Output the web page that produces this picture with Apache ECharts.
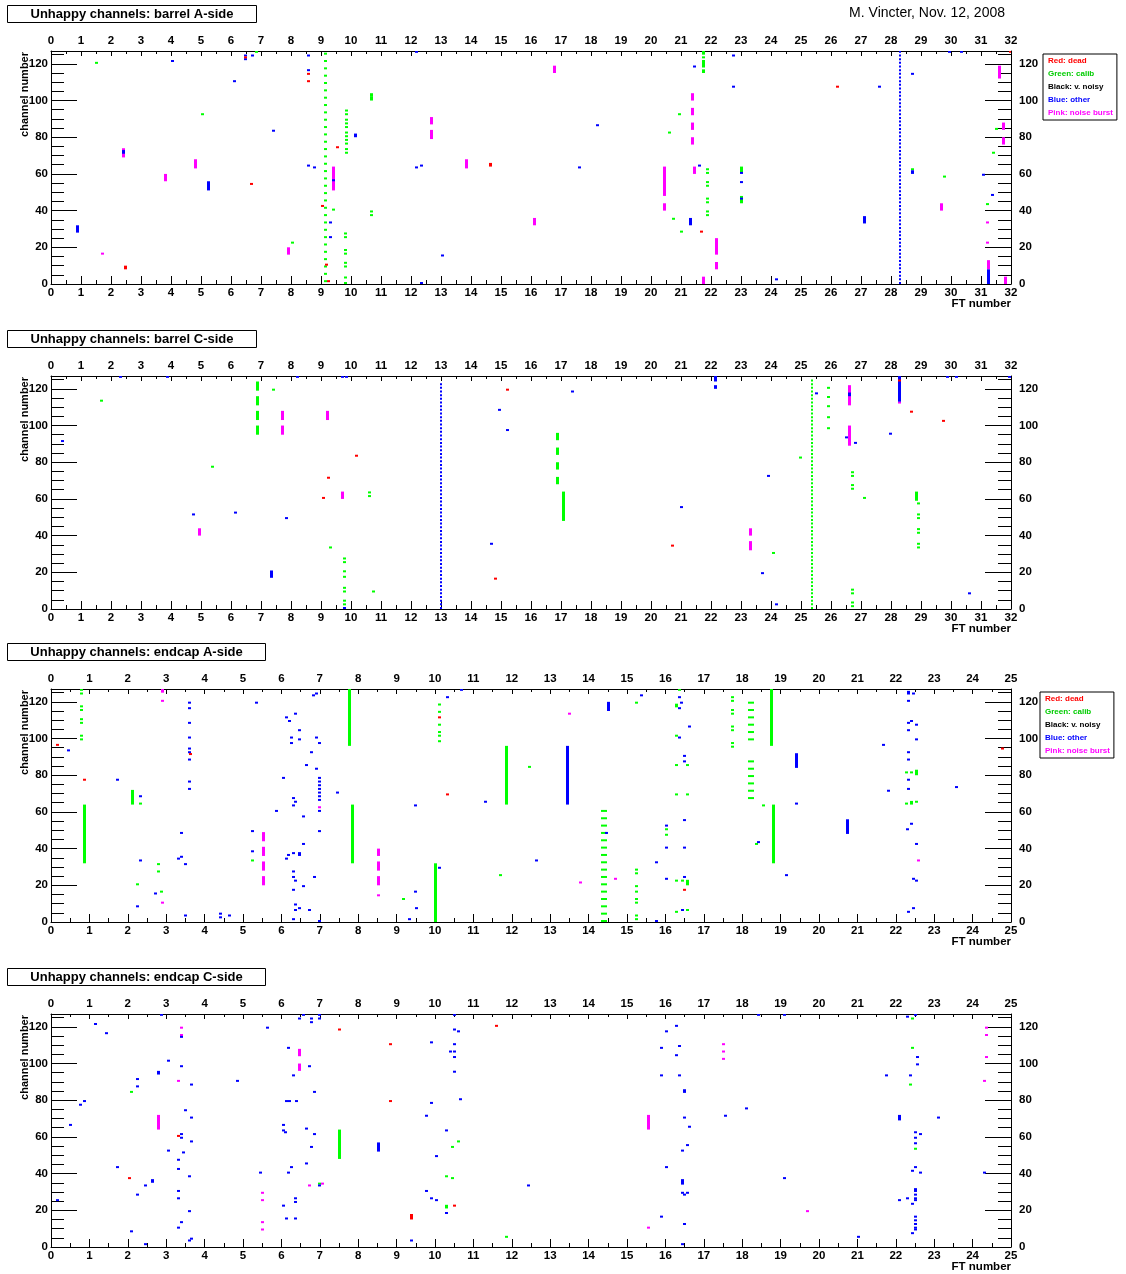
<!DOCTYPE html>
<html><head><meta charset="utf-8">
<script src="https://cdn.jsdelivr.net/npm/echarts@6/dist/echarts.min.js"></script>
<style>html,body{margin:0;padding:0;background:#fff}#c{width:1126px;height:1274px}</style>
</head><body><div id="c"></div><script>
// ---------------- labels ----------------
const panelTitles = ['Unhappy channels: barrel A-side', 'Unhappy channels: barrel C-side', 'Unhappy channels: endcap A-side', 'Unhappy channels: endcap C-side'];
const authorNote = 'M. Vincter, Nov. 12, 2008';
const xTitle = 'FT number';
const yTitle = 'channel number';
const ftMax = [32, 32, 25, 25];
const channelMax = 127;
const legendLabels = ['Red: dead', 'Green: calib', 'Black: v. noisy', 'Blue: other', 'Pink: noise burst'];
const legendColors = ['#ff0000', '#00cc00', '#000000', '#0000ff', '#ff00ff'];

// ---------------- data: [FT, first channel, last channel] ----------------
// barrel A-side
const barrelA_dead = [[6.47,123],[8.57,114],[8.57,110],[9.55,74],[14.64,64,65],[6.68,54],[9.06,42],[2.47,8,9],[9.18,10],[9.26,1],[21.68,28],[26.23,107],[31.97,126]];
const barrelA_calib = [[1.53,120],[6.84,126],[5.05,92],[10.69,102,103],[10.69,100,101],[9.41,40],[10.69,39],[10.69,37],[8.04,22],
 [9.85,94],[9.85,92],[9.85,89],[9.85,87],[9.85,85],[9.85,82],[9.85,80],[9.85,78],[9.85,76],[9.85,73],[9.85,71],
 [9.8,27],[9.8,25],[9.8,18],[9.8,16],[9.8,11],[9.8,9],[9.8,3],[9.8,0],
 [21.74,125,126],[21.74,123],[21.74,121],[21.74,118,120],[21.74,115,116],[20.94,92],[20.6,82],
 [21.89,62],[21.89,60],[21.89,55],[21.89,53],[21.89,46],[21.89,44],[21.89,39],[21.89,37],
 [23.03,61,63],[23.03,44,47],[20.74,35],[21.03,28],[28.73,62],[29.77,58],[31.52,84],[31.43,71],[31.2,43],
 [9.15,1],[9.15,5],[9.15,9],[9.15,13],[9.15,17],[9.15,21],[9.15,25],[9.15,29],[9.15,33],[9.15,37],[9.15,41],[9.15,45],[9.15,49],[9.15,53],[9.15,57],[9.15,61],
 [9.15,65],[9.15,69],[9.15,73],[9.15,77],[9.15,81],[9.15,85],[9.15,89],[9.15,93],[9.15,97],[9.15,101],[9.15,105],[9.15,109],[9.15,113],[9.15,117],[9.15,121],[9.15,125]];
const barrelA_noisy = [];
const barrelA_other = [[4.04,121],[6.47,124],[6.47,122],[6.7,124],[6.12,110],[8.57,124],[8.57,116],[7.4,83],[10.14,80,81],[18.2,86],[2.4,71,72],[8.57,64],[8.78,63],[9.41,56],[12.19,63],[12.36,64],[17.63,63],[5.26,51,55],[9.32,33],[9.32,25],[0.89,28,31],[13.05,15],[12.36,0],[12.19,126],
 [21.44,118],[22.74,124],[22.74,107],[21.6,64],[23.03,60],[23.03,55],[23.03,46],[21.32,32,35],
 [24.17,2],[27.63,107],[27.1,33,36],[28.73,60,61],[28.7,114],[29.95,126],[30.35,126],[31.08,59],[31.37,48],[31.25,0,7]];
// dotted full-height column of "other" channels at FT 28.3 (barrel A)
const barrelA_otherColumnFT = 28.3;
const barrelA_otherColumnCh = [0,2,4,6,8,10,12,14,16,18,20,22,24,26,28,30,32,34,36,38,40,42,44,46,48,50,52,54,56,58,60,62,64,66,68,70,72,74,76,78,80,82,84,86,88,90,92,94,96,98,100,102,104,106,108,110,112,114,116,118,120,122,124,126];
const barrelA_burst = [[12.69,87,90],[12.69,79,83],[16.77,115,118],[2.4,69,73],[4.82,63,67],[9.41,51,63],[13.86,63,67],[3.83,56,59],[16.13,32,35],[7.91,16,19],[1.73,16],
 [21.38,100,103],[21.38,92,95],[21.38,84,87],[21.38,76,79],[20.44,48,63],[20.44,40,43],[21.44,60,63],[22.17,16,24],[22.17,8,11],[21.74,0,3],
 [29.67,40,43],[31.63,112,118],[31.75,84,87],[31.75,76,79],[31.23,33],[31.23,22],[31.25,8,12],[31.8,0,3]];

// barrel C-side
const barrelC_dead = [[10.19,83],[9.26,71],[9.07,60],[15.22,119],[14.81,16],[20.73,34],[28.27,124],[28.69,107],[29.74,102]];
const barrelC_calib = [[6.87,119,123],[6.87,111,115],[6.87,103,107],[6.87,95,99],[7.43,119],[1.67,113],[5.37,77],[10.62,63],[10.62,61],[9.33,33],
 [9.77,27],[9.77,25],[9.77,20],[9.77,17],[9.77,11],[9.77,9],[9.77,4],[9.77,2],[10.76,9],
 [16.87,92,95],[16.87,84,87],[16.87,76,79],[16.87,68,71],[17.07,48,63],[24.07,30],[24.97,82],
 [25.93,120],[25.93,115],[25.93,110],[25.93,104],[25.93,98],
 [26.7,74],[26.7,72],[26.7,67],[26.7,65],[26.7,10],[26.7,8],[26.7,3],[26.7,1],[27.11,60],
 [28.85,59,63],[28.91,57],[28.91,51],[28.91,49],[28.91,43],[28.91,41],[28.91,35],[28.91,33]];
// dotted column of "calib" channels at FT 25.37 (barrel C)
const barrelC_calibColumnFT = 25.37;
const barrelC_calibColumnCh = [0,2,4,6,8,10,12,14,16,18,20,22,24,26,28,30,32,34,36,38,40,42,44,46,48,50,52,54,56,58,60,62,64,66,68,70,72,74,76,78,80,82,84,86,88,90,92,94,96,98,100,102,104,106,108,110,112,114,116,118,120,122,124];
const barrelC_noisy = [];
const barrelC_other = [[2.31,126],[3.88,126],[8.23,126],[9.71,126],[9.85,126],[0.39,91],[4.74,51],[6.16,52],[7.86,49],[7.35,17,20],[9.77,0],[14.94,108],[15.22,97],[14.67,35],
 [17.37,118],[21.03,55],[22.15,124,126],[22.15,120,121],[23.7,19],[23.93,72],[24.17,2],[25.5,117],[26.63,116,117],[26.5,93],[26.82,90],[27.97,95],[28.27,113,126],[29.89,126],[30.19,126],[31.95,126],[30.61,8]];
// dotted column of "other" channels at FT 13 (barrel C)
const barrelC_otherColumnFT = 13.0;
const barrelC_otherColumnCh = [0,2,4,6,8,10,12,14,16,18,20,22,24,26,28,30,32,34,36,38,40,42,44,46,48,50,52,54,56,58,60,62,64,66,68,70,72,74,76,78,80,82,84,86,88,90,92,94,96,98,100,102,104,106,108,110,112,114,116,118,120,122];
const barrelC_burst = [[7.7,103,107],[7.7,95,99],[9.2,103,107],[9.71,60,63],[4.96,40,43],[23.3,40,43],[23.3,32,36],[26.63,111,121],[26.63,89,99],[28.27,112]];

// endcap A-side
const endcapA_dead = [[0.16,96],[0.86,77],[3.64,91],[10.13,111],[10.32,69],[16.5,17],[24.79,94]];
const endcapA_calib = [[0.8,126],[0.8,124],[0.8,117],[0.8,115],[0.8,110],[0.8,108],[0.8,101],[0.8,99],
 [0.86,32,63],[2.12,64,71],[2.32,64],[2.8,31],[2.8,27],[2.26,20],[2.87,16],[5.25,33],[7.77,96,126],[7.86,32,63],
 [10.13,118],[10.13,114],[10.13,107],[10.13,103],[10.13,101],[10.13,98],
 [11.85,64,95],[12.45,84],[15.25,119],
 [15.25,28],[15.25,26],[15.25,19],[15.25,16],[15.25,12],[15.25,10],[15.25,3],[15.25,1],
 [11.71,25],[10.0,0,31],[9.19,12],
 [16.02,50],[16.02,47],[16.29,22],[16.45,22],[16.58,20,22],[16.29,5],[16.58,6],[16.29,69],[16.58,69],[16.29,85],[16.58,85],[16.29,101],[16.29,117,118],[16.37,126],
 [17.74,122],[17.74,120],[17.74,115],[17.74,113],[17.74,106],[17.74,104],[17.74,97],[17.74,95],
 [18.2,119],[18.2,115],[18.2,111],[18.2,107],[18.2,103],[18.2,99],[18.2,87],[18.2,83],[18.2,79],[18.2,75],[18.2,71],[18.2,67],
 [18.28,119],[18.28,115],[18.28,111],[18.28,107],[18.28,103],[18.28,99],[18.28,87],[18.28,83],[18.28,79],[18.28,75],[18.28,71],[18.28,67],
 [14.35,60],[14.35,56],[14.35,52],[14.35,48],[14.35,44],[14.35,40],[14.35,36],[14.35,32],[14.35,28],[14.35,24],[14.35,20],[14.35,16],[14.35,12],[14.35,8],[14.35,4],[14.35,0],
 [14.43,60],[14.43,56],[14.43,52],[14.43,48],[14.43,44],[14.43,40],[14.43,36],[14.43,32],[14.43,28],[14.43,24],[14.43,20],[14.43,16],[14.43,12],[14.43,8],[14.43,4],[14.43,0],
 [18.75,96,126],[18.82,32,63],[18.55,63],[18.38,42],
 [22.27,81],[22.41,81],[22.55,80,82],[22.27,64],[22.41,64,65],[22.55,65]];
const endcapA_noisy = [];
const endcapA_other = [[0.45,93],[1.73,77],[2.32,68],[2.32,33],[2.71,15],[2.25,8],
 [3.6,119],[3.6,116],[3.6,108],[3.6,100],[3.6,94],[3.6,92],[3.6,88],[3.6,76],[3.6,72],
 [3.4,48],[3.4,35],[3.32,34],[3.5,31],[3.5,3],[4.41,4],[4.41,2],[4.64,3],[5.34,119],[5.25,49],[5.25,38],[5.86,60],
 [6.14,111],[6.2,109],[6.38,113],[6.46,104],[6.25,100],[6.25,97],[6.46,99],[6.92,100],[6.99,97],[6.79,92],[6.66,85],[6.92,83],[6.05,78],
 [6.99,78],[6.99,76],[6.99,74],[6.99,72],[6.99,70],[6.99,68],[6.99,66],
 [7.46,70],[6.31,67],[6.38,65],[6.31,63],[6.99,60],[6.99,49],[6.57,57],[6.57,42],[6.31,37],[6.46,37],[6.46,36],[6.19,36],[6.13,34],[6.31,27],[6.31,24],[6.38,22],[6.31,17],[6.57,19],[6.85,24],[6.38,9],[6.46,7],[6.38,6],[6.73,6],[6.31,1],[6.99,0],[6.84,123],[6.92,124],
 [10.32,122],[10.69,126],[9.48,63],[11.32,65],[13.45,64,95],[14.51,115,119],[15.38,123],[14.46,48],[12.64,33],[10.13,29],[9.48,16],[9.53,7],[9.34,1],[15.78,32],[15.78,0],
 [16.02,52],[16.02,40],[16.02,23],[16.5,55],[16.5,40],[16.5,24],[16.45,6],[16.5,90],[16.5,87],[16.37,100],[16.37,116],[16.42,119],[16.37,122],[16.63,106],
 [18.42,43],[19.41,84,91],[19.41,64],[19.15,25],[20.73,48,55],[21.67,96],[21.81,71],
 [22.34,124,125],[22.34,120],[22.34,108],[22.34,104],[22.34,92],[22.34,88],[22.34,77],[22.34,72],[22.3,50],[22.34,5],
 [22.41,109],[22.47,124],[22.55,107],[22.55,99],[22.41,53],[22.55,42],[22.47,23],[22.55,22],[22.47,7],[23.59,73]];
const endcapA_burst = [[2.91,10],[2.91,125,126],[2.91,120],[5.53,44,48],[5.53,36,40],[5.53,28,32],[5.53,20,24],[6.99,62],[8.52,36,39],[8.52,28,32],[8.52,20,24],[8.52,14],[13.51,113],[14.7,23],[13.78,21],[22.6,33]];

// endcap C-side
const endcapC_dead = [[3.31,60],[2.04,37],[7.52,118],[8.85,110],[8.85,79],[9.38,15,17],[10.51,22],[11.6,120]];
const endcapC_calib = [[2.1,84],[6.98,34],[7.52,48,63],[10.31,38],[10.45,37],[10.31,21,22],[10.6,57],[10.45,54],[11.86,5],[22.38,88],[22.44,124],[22.44,108],[22.5,53]];
const endcapC_noisy = [];
const endcapC_other = [[1.17,121],[1.45,116],[2.88,126],[3.4,114],[3.4,98],[3.05,101],[2.79,94,95],[3.66,88],[2.25,91],[2.25,87],[0.86,79],[0.78,77],[0.52,66],[3.51,74],[3.66,70],[3.4,61],[3.4,59],[3.66,57],[3.05,52],[3.46,51],[3.31,47],[3.31,42],[3.6,38],[1.73,43],[2.65,35,36],[2.45,33],[2.25,28],[0.17,25],[3.31,30],[3.31,26],[3.6,19],[3.4,13],[3.31,10],[2.1,8],[2.45,1],[3.6,3],[3.66,4],
 [4.85,90],[5.65,119],[6.46,124],[6.58,126],[6.78,124],[6.78,122],[6.98,126],[6.98,124],[6.18,108],[6.72,98],[6.32,93],[6.85,84],[6.13,79],[6.2,79],[6.39,79],[6.05,66],[6.05,63],[6.11,62],[6.65,64],[6.85,61],[6.78,54],[6.65,45],[6.25,43],[6.18,40],[6.98,33],[6.05,22],[6.37,26],[6.37,24],[6.13,15],[6.37,15],[5.46,40],
 [8.53,52,56],[9.38,3],[9.91,111],[9.91,78],[9.77,71],[10.05,49],[9.77,30],[9.91,26],[10.05,25],[10.31,18],[10.31,63],[10.66,80],[10.51,126],[10.51,118],[10.6,117],[10.51,110],[10.4,106],[10.51,106],[10.51,103],[10.51,95],
 [12.44,33],[15.9,16],[16.03,117],[16.3,120],[15.9,108],[16.37,109],[16.3,104],[15.9,93],[16.37,93],[16.5,84,85],[16.5,70],[16.64,65],[16.57,55],[16.44,52],[16.03,43],[16.44,34,36],[16.44,29],[16.5,28],[16.57,29],[16.5,12],[16.44,1],
 [17.57,71],[18.1,75],[18.43,126],[19.1,126],[19.1,37],[21.04,5],[21.77,93],[22.1,69,71],[22.1,25],[22.3,125],[22.3,26],[22.38,93],[22.5,126],[22.57,103],[22.57,99],[22.44,41],[22.5,43],[22.64,40],
 [22.5,62],[22.5,59],[22.5,56],[22.5,31],[22.5,30],[22.5,28],[22.5,26],[22.5,25],[22.5,16],[22.5,14],[22.5,12],[22.5,10],[22.5,9],[22.44,23],[22.44,7],
 [22.64,61],[23.1,70],[24.31,40]];
const endcapC_burst = [[3.4,119],[3.4,115],[3.31,90],[2.79,64,71],[6.46,104,107],[6.46,96,99],[6.72,33],[7.07,34],[5.52,29],[5.52,25],[5.52,13],[5.52,9],[15.57,64,71],[15.57,10],[17.5,110],[17.5,106],[17.5,102],[19.7,19],[24.37,119],[24.37,115],[24.37,103],[24.31,90]];

// ---------------- assemble ----------------
const column = (ft, chList) => chList.map(c => [ft, c]);
const panels = [
  { dead: barrelA_dead, calib: barrelA_calib, noisy: barrelA_noisy, other: barrelA_other, burst: barrelA_burst,
    thin: { other: column(barrelA_otherColumnFT, barrelA_otherColumnCh) } },
  { dead: barrelC_dead, calib: barrelC_calib, noisy: barrelC_noisy, other: barrelC_other, burst: barrelC_burst,
    thin: { calib: column(barrelC_calibColumnFT, barrelC_calibColumnCh), other: column(barrelC_otherColumnFT, barrelC_otherColumnCh) } },
  { dead: endcapA_dead, calib: endcapA_calib, noisy: endcapA_noisy, other: endcapA_other, burst: endcapA_burst, thin: {} },
  { dead: endcapC_dead, calib: endcapC_calib, noisy: endcapC_noisy, other: endcapC_other, burst: endcapC_burst, thin: {} }
];
const norm = arr => arr.map(d => [d[0], d[1], d.length > 2 ? d[2] : d[1]]);

// ---------------- layout ----------------
const gridTops = [51, 376, 689, 1014];
const gridH = 233, gridL = 51, gridW = 960;
const titleBoxes = [[7, 5, 249], [7, 330, 249], [7, 643, 258], [7, 968, 258]];
const FONT = '"Liberation Sans", Arial, sans-serif';
const markColors = { dead: '#ff0000', calib: '#00ff00', noisy: '#000000', other: '#0000ff', burst: '#ff00ff' };
const markNames = { dead: legendLabels[0], calib: legendLabels[1], noisy: legendLabels[2], other: legendLabels[3], burst: legendLabels[4] };
const drawOrder = ['burst', 'calib', 'other', 'dead', 'noisy'];

const grids = [], xAxes = [], yAxes = [], series = [], graphics = [];

function makeRender(w) {
  return function (params, api) {
    const x = api.value(0), lo = api.value(1), hi = api.value(2);
    const a = api.coord([x, lo]);
    const b = api.coord([x, hi + 1]);
    let h = a[1] - b[1];
    if (h < 2) h = 2;
    return { type: 'rect', shape: { x: Math.round(a[0] - w / 2), y: a[1] - h, width: w, height: h },
             style: { fill: api.visual('color') } };
  };
}
const renderNormal = makeRender(3), renderThin = makeRender(2);

for (let i = 0; i < 4; i++) {
  grids.push({ left: gridL, top: gridTops[i], width: gridW, height: gridH, show: false, containLabel: false, outerBoundsMode: 'none' });
  ['bottom', 'top'].forEach(pos => {
    xAxes.push({
      type: 'value', gridIndex: i, position: pos, min: 0, max: ftMax[i], interval: 1,
      axisLine: { show: true, onZero: false, lineStyle: { color: '#000', width: 1 } },
      axisTick: { show: true, inside: true, length: pos === 'top' ? 5 : 8, lineStyle: { color: '#000', width: 1 } },
      minorTick: { show: true, splitNumber: 2, length: pos === 'top' ? 3 : 4, lineStyle: { color: '#000', width: 1 } },
      axisLabel: { show: true, margin: pos === 'top' ? 4 : 3, color: '#000', fontSize: 11.5, fontWeight: 'bold', fontFamily: FONT, hideOverlap: false },
      splitLine: { show: false }, minorSplitLine: { show: false }
    });
  });
  ['left', 'right'].forEach(pos => {
    [true, false].forEach(major => {
      yAxes.push({
        type: 'value', gridIndex: i, position: pos, min: 0, max: channelMax, interval: major ? 20 : 5,
        axisLine: { show: major, onZero: false, lineStyle: { color: '#000', width: 1 } },
        axisTick: { show: true, inside: true, length: major ? 26 : 13, lineStyle: { color: '#000', width: 1 } },
        axisLabel: { show: major, showMaxLabel: false, margin: pos === 'left' ? 3 : 8, color: '#000', fontSize: 11.5, fontWeight: 'bold', fontFamily: FONT },
        splitLine: { show: false }
      });
    });
  });
  drawOrder.forEach(k => {
    const base = {
      type: 'custom', name: markNames[k], xAxisIndex: 2 * i, yAxisIndex: 4 * i,
      coordinateSystem: 'cartesian2d', clip: true, animation: false, silent: true,
      itemStyle: { color: markColors[k] }, encode: { x: 0, y: [1, 2] }
    };
    if (panels[i].thin[k]) series.push(Object.assign({}, base, { renderItem: renderThin, data: norm(panels[i].thin[k]) }));
    series.push(Object.assign({}, base, { renderItem: renderNormal, data: norm(panels[i][k]) }));
  });
  const [bx, by, bw] = titleBoxes[i];
  graphics.push({ type: 'rect', shape: { x: bx + 0.5, y: by + 0.5, width: bw, height: 17 }, style: { fill: '#fff', stroke: '#000', lineWidth: 1 }, z: 10 });
  graphics.push({ type: 'text', x: bx + bw / 2 + 0.5, y: by + 9.5, style: { text: panelTitles[i], font: 'bold 13px ' + FONT, fill: '#000', align: 'center', verticalAlign: 'middle' }, z: 11 });
  graphics.push({ type: 'text', x: 25, y: gridTops[i] + 1, rotation: Math.PI / 2, style: { text: yTitle, font: 'bold 11px ' + FONT, fill: '#000', align: 'right', verticalAlign: 'middle' } });
  graphics.push({ type: 'text', x: gridL + gridW, y: gridTops[i] + gridH + 20, style: { text: xTitle, font: 'bold 11.5px ' + FONT, fill: '#000', align: 'right', verticalAlign: 'middle' } });
}
graphics.push({ type: 'text', x: 1005, y: 13, style: { text: authorNote, font: '14px ' + FONT, fill: '#000', align: 'right', verticalAlign: 'middle' } });

function legendFor(left, top) {
  return {
    left: left, top: top, orient: 'vertical', itemWidth: 0, itemHeight: 8, itemGap: 5,
    padding: [3, 4, 3, 0], borderColor: '#000', borderWidth: 1, backgroundColor: '#fff',
    selectedMode: false, itemStyle: { opacity: 0 }, icon: 'rect',
    textStyle: { fontSize: 8, fontWeight: 'bold', fontFamily: FONT },
    data: legendLabels.map((n, k) => ({ name: n, textStyle: { color: legendColors[k] } }))
  };
}

const chart = echarts.init(document.getElementById('c'), null, { renderer: 'canvas' });
chart.setOption({
  animation: false,
  backgroundColor: '#fff',
  grid: grids, xAxis: xAxes, yAxis: yAxes, series: series,
  legend: [legendFor(1043, 54), legendFor(1040, 692)],
  graphic: { elements: graphics }
});
</script></body></html>
